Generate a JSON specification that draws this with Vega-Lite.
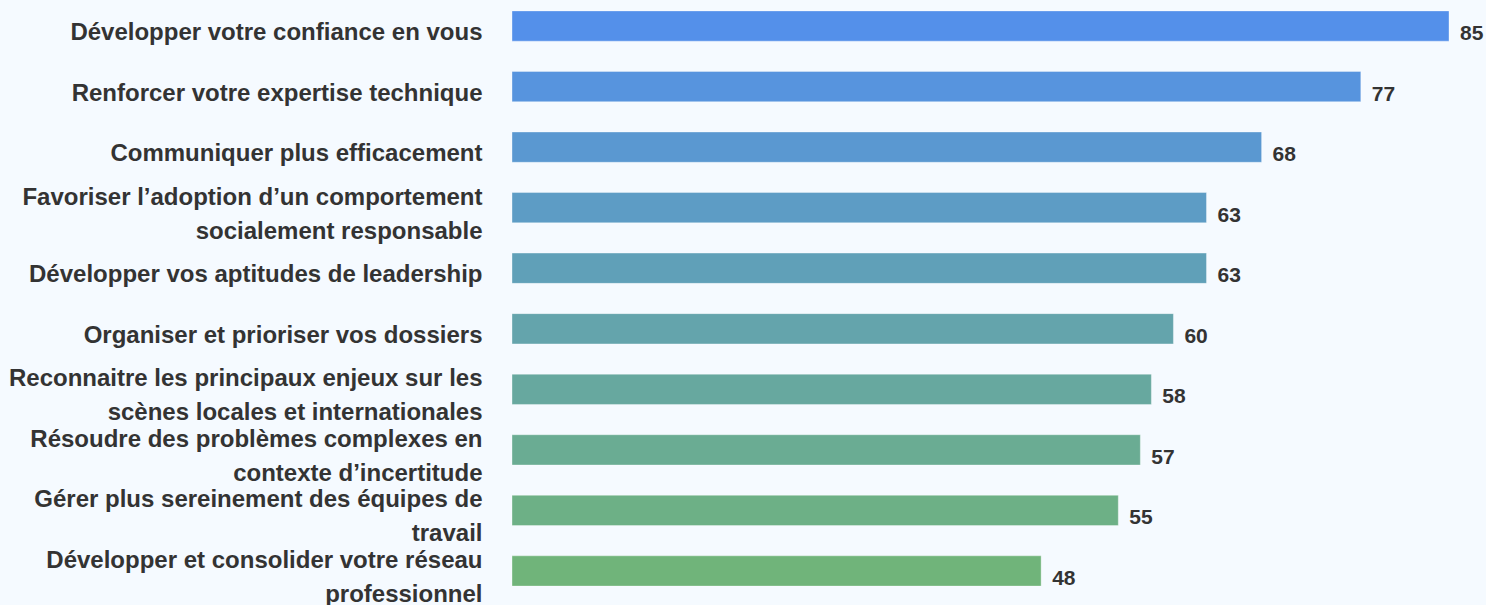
{
  "$schema": "https://vega.github.io/schema/vega-lite/v6.json",
  "autosize": {"type": "none"},
  "padding": {"left": 512, "top": 0, "right": 37, "bottom": 8},
  "width": 937,
  "height": 597,
  "background": "#F5FAFF",
  "config": {"view": {"stroke": null}, "font": "Liberation Sans"},
  "data": {"values": [
    {"label": "Développer votre confiance en vous", "value": 85},
    {"label": "Renforcer votre expertise technique", "value": 77},
    {"label": "Communiquer plus efficacement", "value": 68},
    {"label": "Favoriser l’adoption d’un comportement|socialement responsable", "value": 63},
    {"label": "Développer vos aptitudes de leadership", "value": 63},
    {"label": "Organiser et prioriser vos dossiers", "value": 60},
    {"label": "Reconnaitre les principaux enjeux sur les|scènes locales et internationales", "value": 58},
    {"label": "Résoudre des problèmes complexes en|contexte d’incertitude", "value": 57},
    {"label": "Gérer plus sereinement des équipes de|travail", "value": 55},
    {"label": "Développer et consolider votre réseau|professionnel", "value": 48}
  ]},
  "encoding": {
    "y": {
      "field": "label", "type": "nominal", "sort": null,
      "scale": {"paddingInner": 0.5, "paddingOuter": 0.18},
      "axis": {
        "title": null, "domain": false, "ticks": false,
        "labelExpr": "split(datum.value, '|')",
        "labelFontSize": 24, "labelFontWeight": "bold", "labelColor": "#333333",
        "labelLineHeight": 34, "labelPadding": 30,
        "labelOffset": {"condition": {"test": "indexof(datum.value, '|') >= 0", "value": -10}, "value": 7},
        "labelLimit": 600
      }
    },
    "x": {
      "field": "value", "type": "quantitative",
      "scale": {"domain": [0, 85], "nice": false},
      "axis": null
    }
  },
  "layer": [
    {
      "mark": {"type": "bar", "stroke": "white", "strokeOpacity": 0.35, "strokeWidth": 1},
      "encoding": {
        "color": {
          "field": "label", "type": "nominal", "sort": null, "legend": null,
          "scale": {"range": ["#5490EA", "#5794DE", "#5A98D1", "#5D9CC5", "#60A0B8", "#64A4AC", "#67A89F", "#6AAC93", "#6DB086", "#70B47A"]}
        }
      }
    },
    {
      "mark": {"type": "text", "align": "left", "dx": 11, "dy": 8, "fontSize": 21, "fontWeight": "bold", "color": "#333333"},
      "encoding": {"text": {"field": "value", "type": "quantitative"}}
    }
  ]
}
